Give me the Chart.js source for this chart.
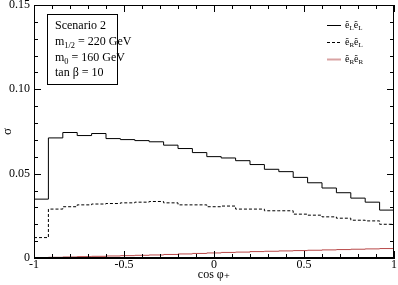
<!DOCTYPE html>
<html>
<head>
<meta charset="utf-8">
<script src="https://cdn.jsdelivr.net/npm/chart.js@4.4.1/dist/chart.umd.min.js"></script>
<style>
  html, body { margin: 0; padding: 0; background: #fff; }
  #wrap { width: 398px; height: 285px; }
</style>
</head>
<body>
<div id="wrap"><canvas id="chart"></canvas></div>
<script>
// bords des classes en cos phi+
const binEdges = [-1, -0.92, -0.84, -0.76, -0.68, -0.60, -0.52, -0.44, -0.36, -0.28, -0.20, -0.12, -0.04,
  0.04, 0.12, 0.20, 0.28, 0.36, 0.44, 0.52, 0.60, 0.68, 0.76, 0.84, 0.92, 1];

// sections efficaces par classe (25 classes)
const sigmaLL = [0.0349, 0.0712, 0.0744, 0.0726, 0.0738, 0.0708, 0.0702, 0.0696, 0.0689, 0.0669, 0.0649, 0.0625, 0.0601,
  0.0593, 0.0577, 0.0554, 0.0526, 0.0512, 0.0478, 0.0446, 0.0415, 0.0387, 0.0355, 0.0331, 0.0284];
const sigmaRL = [0.0121, 0.0290, 0.0304, 0.0315, 0.0320, 0.0323, 0.0327, 0.0331, 0.0335, 0.0327, 0.0315, 0.0315, 0.0304,
  0.0308, 0.0290, 0.0290, 0.0280, 0.0280, 0.0260, 0.0254, 0.0244, 0.0236, 0.0224, 0.0220, 0.0200];
const sigmaRR = [0.0002, 0.0004, 0.0006, 0.0008, 0.0010, 0.0012, 0.0014, 0.0016, 0.0018, 0.0021, 0.0024, 0.0027, 0.0030,
  0.0033, 0.0035, 0.0038, 0.0040, 0.0042, 0.0044, 0.0046, 0.0048, 0.0050, 0.0052, 0.0054, 0.0056];

const xTicks = [-1, -0.5, 0, 0.5, 1];
const yTicks = [0, 0.05, 0.10, 0.15];

const SERIF = "'Liberation Serif', 'DejaVu Serif', serif";

// histogramme : un point par bord gauche, dernier point répété à x = 1
function toSteps(vals) {
  return binEdges.map((x, i) => ({ x: x, y: vals[Math.min(i, vals.length - 1)] }));
}

// texte avec indices (m_1/2, e_L ...)
function drawRich(ctx, parts, x, y, size) {
  for (const p of parts) {
    const fs = p.sub ? size * 0.7 : size;
    ctx.font = fs + 'px ' + SERIF;
    ctx.fillText(p.t, x, y + (p.sub ? size * 0.35 : 0));
    x += ctx.measureText(p.t).width;
  }
}

const legendRows = [
  { color: '#000', dash: [], width: 1, parts: [{ t: 'ẽ' }, { t: 'L', sub: 1 }, { t: 'ẽ' }, { t: 'L', sub: 1 }] },
  { color: '#000', dash: [3, 2], width: 1, parts: [{ t: 'ẽ' }, { t: 'R', sub: 1 }, { t: 'ẽ' }, { t: 'L', sub: 1 }] },
  { color: '#d9a3a3', dash: [], width: 2, parts: [{ t: 'ẽ' }, { t: 'R', sub: 1 }, { t: 'ẽ' }, { t: 'R', sub: 1 }] },
];

const framePlugin = {
  id: 'frame',
  afterDraw(chart) {
    const ctx = chart.ctx;
    const a = chart.chartArea;
    const sx = chart.scales.x, sy = chart.scales.y;
    ctx.save();
    ctx.strokeStyle = '#000';
    ctx.lineWidth = 1;
    ctx.strokeRect(Math.round(a.left) + 0.5, Math.round(a.top) + 0.5,
      Math.round(a.right - a.left) - 1, Math.round(a.bottom - a.top) - 1);

    // graduations vers l'intérieur sur les 4 côtés
    ctx.beginPath();
    for (let i = -10; i <= 10; i++) {
      const px = Math.round(sx.getPixelForValue(i / 10)) + 0.5;
      const len = i % 5 === 0 ? 7 : 4;
      ctx.moveTo(px, a.bottom); ctx.lineTo(px, a.bottom - len);
      ctx.moveTo(px, a.top); ctx.lineTo(px, a.top + len);
    }
    for (let i = 0; i <= 15; i++) {
      const py = Math.round(sy.getPixelForValue(i / 100)) + 0.5;
      const len = i % 5 === 0 ? 7 : 4;
      ctx.moveTo(a.left, py); ctx.lineTo(a.left + len, py);
      ctx.moveTo(a.right, py); ctx.lineTo(a.right - len, py);
    }
    ctx.stroke();

    // encadré des paramètres
    ctx.strokeRect(47.5, 14.5, 70, 70);
    ctx.fillStyle = '#000';
    ctx.textBaseline = 'middle';
    ctx.textAlign = 'left';
    drawRich(ctx, [{ t: 'Scenario 2' }], 55, 26, 12);
    drawRich(ctx, [{ t: 'm' }, { t: '1/2', sub: 1 }, { t: ' = 220 GeV' }], 55, 42, 12);
    drawRich(ctx, [{ t: 'm' }, { t: '0', sub: 1 }, { t: ' = 160 GeV' }], 55, 58, 12);
    drawRich(ctx, [{ t: 'tan β = 10' }], 55, 73, 12);

    // légende
    legendRows.forEach((r, k) => {
      const y = 25 + k * 17;
      ctx.beginPath();
      ctx.strokeStyle = r.color;
      ctx.lineWidth = r.width;
      ctx.setLineDash(r.dash);
      ctx.moveTo(327, y + 0.5); ctx.lineTo(341, y + 0.5);
      ctx.stroke();
      ctx.setLineDash([]);
      drawRich(ctx, r.parts, 345, y, 10);
    });
    ctx.restore();
  }
};

new Chart(document.getElementById('chart'), {
  type: 'line',
  data: {
    datasets: [
      { label: 'LL', data: toSteps(sigmaLL), borderColor: '#000', borderWidth: 1, stepped: 'before', pointRadius: 0 },
      { label: 'RL', data: toSteps(sigmaRL), borderColor: '#000', borderWidth: 1, borderDash: [3, 2], stepped: 'before', pointRadius: 0 },
      { label: 'RR', data: toSteps(sigmaRR), borderColor: '#b84848', borderWidth: 1, stepped: 'before', pointRadius: 0 },
    ],
  },
  options: {
    animation: false,
    responsive: true,
    maintainAspectRatio: false,
    layout: { padding: { top: 5, right: 4, left: 0, bottom: 0 } },
    plugins: { legend: { display: false }, tooltip: { enabled: false } },
    scales: {
      x: {
        type: 'linear',
        min: -1, max: 1,
        afterBuildTicks: (s) => { s.ticks = xTicks.map(v => ({ value: v })); },
        afterFit: (s) => { s.height = 27; s.paddingLeft = 0; s.paddingRight = 0; },
        ticks: {
          color: '#000', padding: 0, maxRotation: 0,
          font: { family: SERIF, size: 12 },
          callback: (v) => String(v),
        },
        grid: { display: false, drawTicks: false },
        border: { color: '#000' },
        title: {
          display: true, text: 'cos φ₊', color: '#000',
          font: { family: SERIF, size: 12 }, padding: { top: 0, bottom: 3 },
        },
      },
      y: {
        min: 0, max: 0.15,
        afterBuildTicks: (s) => { s.ticks = yTicks.map(v => ({ value: v })); },
        afterFit: (s) => { s.width = 34; s.paddingTop = 0; s.paddingBottom = 0; },
        ticks: {
          color: '#000', padding: 4,
          font: { family: SERIF, size: 12 },
          callback: (v) => (v === 0 ? '0' : v.toFixed(2)),
        },
        grid: { display: false, drawTicks: false },
        border: { color: '#000' },
        title: {
          display: true, text: 'σ', color: '#000',
          font: { family: SERIF, size: 13 }, padding: 0,
        },
      },
    },
  },
  plugins: [framePlugin],
});
</script>
</body>
</html>
